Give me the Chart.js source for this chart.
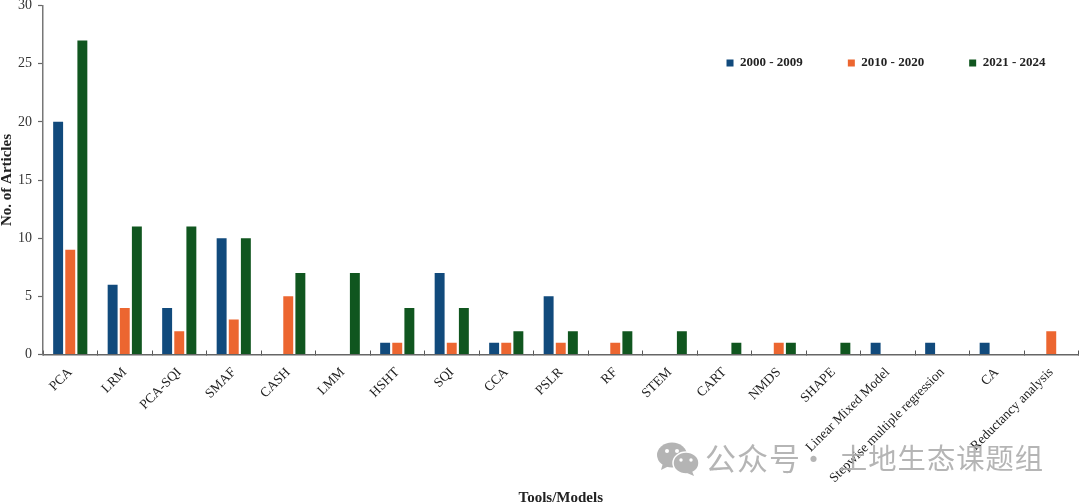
<!DOCTYPE html>
<html>
<head>
<meta charset="utf-8">
<style>
html,body{margin:0;padding:0;background:#fff;width:1080px;height:503px;overflow:hidden}
#wrap{position:relative;width:1080px;height:503px}
.wm{position:absolute;top:437px;font:29px "Noto Sans CJK SC";color:#a8a8a8;opacity:.85;letter-spacing:1px;line-height:40px;white-space:pre;pointer-events:none}
#ic{position:absolute;left:655px;top:441px;pointer-events:none}
</style>
</head>
<body>
<div id="wrap">
<canvas id="c" width="1080" height="503"></canvas>
<svg id="ic" width="46" height="36" viewBox="0 0 46 36">
<ellipse cx="17" cy="14" rx="15" ry="12.5" fill="#b4b4b4"/>
<path d="M8 22 L6 29 L14 25Z" fill="#b4b4b4"/>
<ellipse cx="31" cy="22" rx="13" ry="11" fill="#b4b4b4" stroke="#fff" stroke-width="1.5"/>
<path d="M37 30 L39 35 L32 32Z" fill="#b4b4b4"/>
<circle cx="12" cy="10" r="2" fill="#fff"/><circle cx="22" cy="10" r="2" fill="#fff"/>
<circle cx="26" cy="19" r="1.7" fill="#fff"/><circle cx="36" cy="19" r="1.7" fill="#fff"/>
</svg>
<div class="wm" style="left:705px;font-size:31px">公众号</div>
<div class="wm" style="left:799px">·</div>
<div class="wm" style="left:839px;font-size:28.3px">土地生态课题组</div>
</div>
<script src="https://cdn.jsdelivr.net/npm/chart.js@4/dist/chart.umd.js"></script>
<script>
const categories = ["PCA","LRM","PCA-SQI","SMAF","CASH","LMM","HSHT","SQI","CCA","PSLR","RF","STEM","CART","NMDS","SHAPE","Linear Mixed Model","Stepwise multiple regression","CA","Reductancy analysis"];
const series2000 = [20,6,4,10,0,0,1,7,1,5,0,0,0,0,0,1,1,1,0];
const series2010 = [9,4,2,3,5,0,1,1,1,1,1,0,0,1,0,0,0,0,2];
const series2021 = [27,11,11,10,7,7,4,4,2,2,2,2,1,1,1,0,0,0,0];
const yTicks = [0,5,10,15,20,25,30];
const serif = '"Liberation Serif"';

const legendPlace = {
  id:'legendPlace',
  beforeLayout(chart){
    chart.legend.isHorizontal = () => true;
  },
  afterLayout(chart){
    const l = chart.legend;
    l.left += 55; l.right += 55; l.top += 6; l.bottom += 6;
    (l.legendHitBoxes||[]).forEach(b=>{b.left+=55;b.top+=6;});
  }
};

new Chart(document.getElementById('c'),{
  type:'bar',
  data:{labels:categories,datasets:[
    {label:'2000 - 2009',data:series2000,backgroundColor:'#114a7c'},
    {label:'2010 - 2020',data:series2010,backgroundColor:'#ec6630'},
    {label:'2021 - 2024',data:series2021,backgroundColor:'#10561f'}
  ]},
  plugins:[legendPlace],
  options:{
    responsive:false,animation:false,
    layout:{padding:{top:5.5,right:1.5,left:0,bottom:0}},
    datasets:{bar:{categoryPercentage:0.667,barPercentage:0.82}},
    plugins:{
      tooltip:{enabled:false},
      legend:{
        position:'chartArea',align:'end',
        labels:{boxWidth:7,boxHeight:7,padding:45,color:'#222',font:{family:serif,size:13,weight:'bold'}}
      }
    },
    scales:{
      x:{
        afterFit(s){s.height=148.5;s.paddingRight=0;},
        grid:{offset:true,drawOnChartArea:false,tickLength:-4,tickColor:'#555',tickWidth:1},
        border:{color:'#666',width:1.5},
        ticks:{minRotation:45,maxRotation:45,autoSkip:false,padding:14,color:'#222',font:{family:serif,size:13.5}},
        title:{display:true,text:'Tools/Models',color:'#222',font:{family:serif,size:15,weight:'bold'},padding:{top:0,bottom:-4}}
      },
      y:{
        min:0,max:30,
        afterFit(s){s.width=43;s.paddingTop=0;},
        afterBuildTicks(s){s.ticks=yTicks.map(v=>({value:v}));},
        grid:{drawOnChartArea:false,tickLength:5,tickColor:'#666',tickWidth:1.2},
        border:{color:'#777',width:1.5},
        ticks:{padding:6,color:'#333',font:{family:serif,size:14}},
        title:{display:true,text:'No. of Articles',color:'#222',font:{family:serif,size:15,weight:'bold'},padding:{top:-2,bottom:0}}
      }
    }
  }
});
</script>
</body>
</html>
